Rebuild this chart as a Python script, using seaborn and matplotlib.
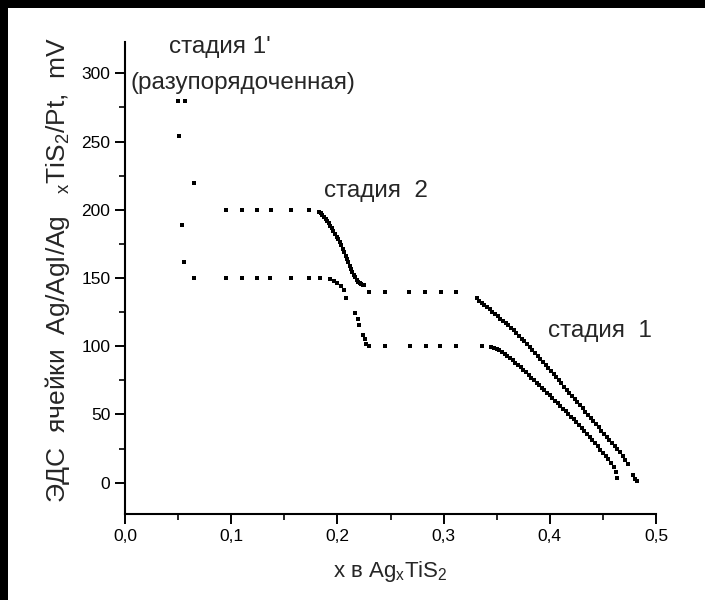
import numpy as np
import pandas as pd
import matplotlib
matplotlib.use("Agg")
import matplotlib.pyplot as plt
import seaborn as sns
from matplotlib.patches import Rectangle
from matplotlib.ticker import MultipleLocator

# -----------------------
# Data (x in Ag_xTiS2, EMF in mV)
# -----------------------

# stage 1' (disordered) scattered points
x_stage1p = [0.050, 0.0565, 0.0508, 0.065, 0.0534, 0.0556]
v_stage1p = [280, 280, 254, 220, 189, 162]

# upper plateau at ~200 mV
x_plat200 = [0.0951, 0.1099, 0.124, 0.1372, 0.156, 0.173]
v_plat200 = [200, 200, 200, 200, 200, 200]

# upper stage 2 descent
x_desc_up = [0.1828, 0.1843, 0.1858, 0.1873, 0.1888, 0.1903, 0.1918, 0.1933,
             0.1948, 0.1963, 0.1978, 0.1993, 0.2008, 0.2023, 0.2038, 0.2052,
             0.2065, 0.2078, 0.209, 0.2102, 0.2115, 0.2128, 0.214, 0.2153,
             0.2167, 0.218, 0.2195, 0.221, 0.2225, 0.224, 0.2255]
v_desc_up = [198.5, 197.5, 196.3, 195, 193.5, 191.8, 190, 188.2,
             186.4, 184.5, 182.5, 180.4, 178.3, 176.2, 174, 171.5,
             169, 166.4, 164, 161.5, 159, 156.6, 154.3, 152.2,
             150.4, 148.8, 147.4, 146.4, 145.6, 145.1, 144.7]

# plateau at ~140 mV
x_plat140 = [0.230, 0.245, 0.2677, 0.2828, 0.2973, 0.3117]
v_plat140 = [140, 140, 140, 140, 140, 140]

# upper stage 1 line
x_st1_up = [0.331, 0.3335, 0.336, 0.3385, 0.341, 0.3435, 0.346, 0.3485, 0.351,
            0.3535, 0.356, 0.3585, 0.361, 0.3635, 0.366, 0.3685, 0.371, 0.3735,
            0.376, 0.3785, 0.381, 0.3835, 0.386, 0.3885, 0.391, 0.3935, 0.396,
            0.3985, 0.401, 0.4035, 0.406, 0.4085, 0.411, 0.4135, 0.416, 0.4185,
            0.421, 0.4235, 0.426, 0.4285, 0.431, 0.4335, 0.436, 0.4385, 0.441,
            0.4435, 0.446, 0.4485, 0.451, 0.4535, 0.456, 0.4585, 0.461, 0.4635,
            0.466, 0.4685, 0.471, 0.4735, 0.4785, 0.4805, 0.482]
v_st1_up = [135, 133.5, 131.8, 130.2, 128.6, 127, 125.3, 123.6, 122,
            120.3, 118.6, 116.9, 115.2, 113.6, 111.8, 109.8, 107.7, 105.6,
            103.5, 101.3, 99.2, 97.1, 95, 92.8, 90.6, 88.4, 86.2,
            84, 81.8, 79.5, 77.3, 75, 72.7, 70.4, 68.2, 65.9,
            63.6, 61.3, 59, 56.7, 54.4, 52, 49.7, 47.4, 45.1,
            42.8, 40.5, 38.2, 35.9, 33.6, 31.3, 29, 26.7, 24.4,
            22.1, 19.4, 16.5, 13.5, 5.5, 3, 1]

# lower plateau at ~150 mV
x_plat150 = [0.0647, 0.095, 0.1099, 0.124, 0.137, 0.156, 0.173, 0.1836]
v_plat150 = [150, 150, 150, 150, 150, 150, 150, 150]

# lower stage 2 descent
x_desc_lo = [0.1933, 0.1965, 0.1997, 0.203, 0.206, 0.208, 0.2166, 0.219,
             0.2208, 0.2242, 0.2257, 0.2272]
v_desc_lo = [149.4, 148, 146.6, 144, 141, 135.3, 124, 120,
             115.5, 108.4, 105, 101.3]

# plateau at ~100 mV
x_plat100 = [0.230, 0.245, 0.268, 0.283, 0.297, 0.312, 0.336]
v_plat100 = [100, 100, 100, 100, 100, 100, 100]

# lower stage 1 line
x_st1_lo = [0.345, 0.3475, 0.35, 0.3525, 0.355, 0.3575, 0.36, 0.3625, 0.365,
            0.3675, 0.37, 0.3725, 0.375, 0.3775, 0.38, 0.3825, 0.385, 0.3875,
            0.39, 0.3925, 0.395, 0.3975, 0.4, 0.4025, 0.405, 0.4075, 0.41,
            0.4125, 0.415, 0.4175, 0.42, 0.4225, 0.425, 0.4275, 0.43, 0.4325,
            0.435, 0.4375, 0.44, 0.4425, 0.445, 0.4475, 0.45, 0.4525, 0.455,
            0.4575, 0.46, 0.462, 0.463]
v_st1_lo = [99.5, 98.9, 98, 96.9, 95.8, 94.5, 93, 91.4, 89.7,
            88, 86.2, 84.4, 82.6, 80.8, 78.9, 77, 75.2, 73.3,
            71.5, 69.6, 67.7, 65.8, 63.9, 62, 60.1, 58.2, 56.3,
            54.3, 52.3, 50.3, 48.3, 46.3, 44.3, 42.2, 40.1, 38,
            35.8, 33.5, 31.2, 28.9, 26.6, 24.2, 21.8, 19.4, 17,
            14.4, 11.2, 7.5, 3.5]

x_ticks = [0.0, 0.1, 0.2, 0.3, 0.4, 0.5]
x_ticklabels = ["0,0", "0,1", "0,2", "0,3", "0,4", "0,5"]
y_ticks = [0, 50, 100, 150, 200, 250, 300]

# build one table for seaborn
xs = (x_stage1p + x_plat200 + x_desc_up + x_plat140 + x_st1_up
      + x_plat150 + x_desc_lo + x_plat100 + x_st1_lo)
vs = (v_stage1p + v_plat200 + v_desc_up + v_plat140 + v_st1_up
      + v_plat150 + v_desc_lo + v_plat100 + v_st1_lo)
df = pd.DataFrame({"x": xs, "emf": vs})

# -----------------------
# Plot
# -----------------------
sns.set_style("ticks")
plt.rcParams['font.family'] = ['Liberation Sans', 'DejaVu Sans']

fig = plt.figure(figsize=(7.05, 6), dpi=100)
fig.patch.set_facecolor("black")
fig.add_artist(Rectangle((8 / 705, 0), 1, 1 - 8 / 600, transform=fig.transFigure,
                         facecolor="white", edgecolor="none", zorder=-5))
ax = fig.add_axes([125 / 705, 1 - 514 / 600, (656 - 125) / 705, (514 - 42) / 600])

sns.scatterplot(data=df, x="x", y="emf", marker="s", s=12, color="black",
                linewidth=0, ax=ax)

ax.set_xlim(0, 0.5)
ax.set_ylim(-23, 323)
ax.set_xticks(x_ticks)
ax.set_xticklabels(x_ticklabels)
ax.set_yticks(y_ticks)
ax.xaxis.set_minor_locator(MultipleLocator(0.05))
ax.yaxis.set_minor_locator(MultipleLocator(25))
ax.tick_params(which="major", length=7, width=1.4, labelsize=12.5, color="black",
               labelcolor="black")
ax.tick_params(which="minor", length=4.5, width=1.2, color="black")
sns.despine(ax=ax)
for side in ["left", "bottom"]:
    ax.spines[side].set_linewidth(1.5)
    ax.spines[side].set_color("black")

ax.set_xlabel(r"x в Ag$\mathregular{_x}$TiS$\mathregular{_2}$", fontsize=16, labelpad=11)
ax.set_ylabel(r"ЭДС  ячейки  Ag/AgI/Ag   $\mathregular{_x}$TiS$\mathregular{_2}$/Pt,  mV",
              fontsize=19, labelpad=4)
ax.yaxis.set_label_coords(-0.1, 0.517)

ax.text(0.0895, 319, "стадия 1'", fontsize=17.5, ha="center", va="center")
ax.text(0.111, 293, "(разупорядоченная)", fontsize=17.5, ha="center", va="center")
ax.text(0.236, 214, "стадия  2", fontsize=17.5, ha="center", va="center")
ax.text(0.447, 111, "стадия  1", fontsize=17.5, ha="center", va="center")

fig.savefig("out.png", dpi=100)
